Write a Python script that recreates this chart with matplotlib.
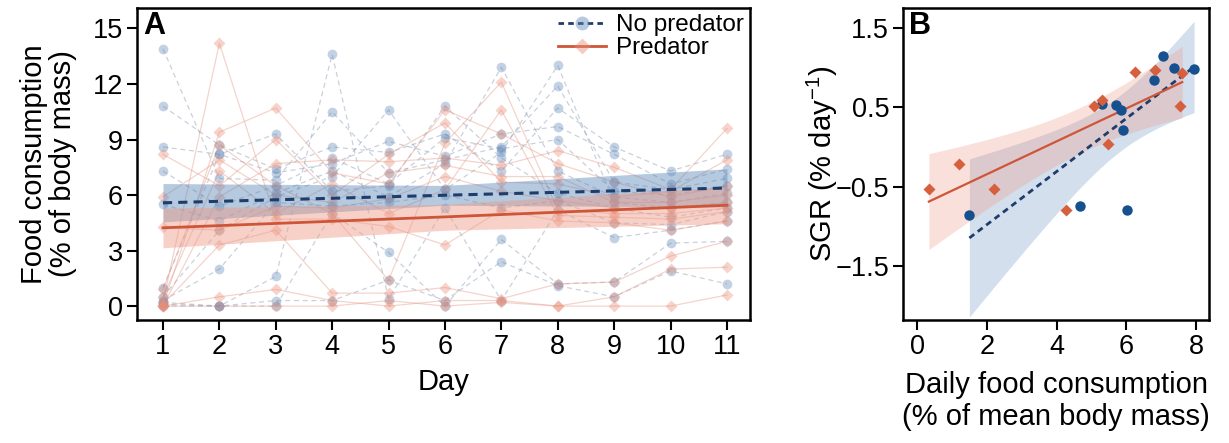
import numpy as np
import matplotlib
matplotlib.use("Agg")
import matplotlib.pyplot as plt
from matplotlib.lines import Line2D
from matplotlib.colors import to_rgba

plt.rcParams['font.family'] = ['Liberation Sans', 'DejaVu Sans']

# ---------------- Panel A data ----------------
days = [1, 2, 3, 4, 5, 6, 7, 8, 9, 10, 11]

no_pred_fish = [
    [0.0, 0.0, 0.3, 0.3, 1.4, 0.3, 2.4, 1.1, 0.5, 1.9, 1.2],
    [0.1, 0.0, 0.0, 5.0, 2.9, 0.0, 3.6, 1.2, 1.3, 3.4, 3.5],
    [0.2, 0.0, 1.6, 13.6, 0.4, 5.3, 0.3, 5.2, 3.7, 4.1, 4.6],
    [0.3, 2.0, 5.6, 5.4, 5.6, 6.0, 5.3, 5.7, 4.5, 4.4, 5.1],
    [1.0, 8.2, 9.3, 6.2, 6.5, 10.8, 8.0, 6.1, 5.3, 4.8, 5.3],
    [0.5, 4.1, 5.9, 7.0, 10.6, 6.3, 8.3, 13.0, 5.6, 5.3, 5.6],
    [5.5, 4.6, 6.1, 7.3, 5.9, 7.7, 12.9, 7.3, 5.9, 5.6, 6.1],
    [7.3, 5.4, 6.5, 8.0, 6.6, 9.1, 8.5, 9.0, 6.2, 6.0, 6.5],
    [13.9, 6.9, 6.8, 10.5, 7.2, 7.9, 8.6, 11.9, 6.7, 6.3, 6.9],
    [8.6, 8.2, 7.2, 7.7, 8.9, 8.1, 9.3, 9.7, 8.2, 6.6, 7.4],
    [10.8, 8.7, 7.4, 8.6, 8.3, 9.3, 7.3, 10.7, 8.6, 7.3, 8.2],
]

pred_fish = [
    [0.0, 0.0, 0.0, 0.0, 0.3, 0.0, 0.2, 0.0, 0.0, 0.0, 0.6],
    [0.0, 0.5, 0.9, 0.3, 0.0, 0.3, 0.3, 0.0, 0.5, 2.0, 2.1],
    [0.1, 3.3, 4.1, 0.7, 0.7, 1.0, 0.4, 1.2, 1.3, 2.7, 3.5],
    [0.2, 14.2, 4.7, 4.7, 4.3, 3.3, 5.2, 4.6, 4.5, 4.1, 4.6],
    [0.5, 7.3, 5.0, 6.6, 5.0, 6.3, 10.6, 4.9, 4.8, 4.7, 5.1],
    [0.9, 8.7, 6.5, 5.0, 1.4, 8.8, 12.1, 5.2, 5.0, 5.0, 5.3],
    [4.25, 4.1, 5.4, 5.3, 5.8, 7.0, 6.2, 5.7, 5.3, 5.3, 5.6],
    [5.9, 7.9, 6.0, 5.6, 7.2, 7.6, 7.0, 7.0, 5.6, 5.6, 6.0],
    [8.2, 6.5, 9.0, 6.0, 8.2, 9.9, 6.7, 6.6, 5.9, 6.2, 7.9],
    [0.0, 9.4, 10.7, 7.2, 6.6, 10.6, 9.3, 7.7, 6.7, 5.9, 6.5],
    [0.0, 5.9, 7.7, 7.9, 7.8, 8.0, 7.6, 8.4, 7.5, 6.3, 9.6],
]

# model fit at days 1, 6, 11
fit_days = [1, 6, 11]
no_pred_fit = [5.58, 5.99, 6.38]
no_pred_lo = [4.55, 5.45, 5.35]
no_pred_hi = [6.62, 6.52, 7.42]
pred_fit = [4.23, 4.82, 5.45]
pred_lo = [3.15, 4.10, 4.45]
pred_hi = [5.30, 5.50, 6.45]

# ---------------- Panel B data ----------------
np_food = [1.50, 4.67, 6.03, 5.30, 5.70, 5.85, 5.89, 6.79, 7.05, 7.36, 7.94]
np_sgr = [-0.86, -0.75, -0.79, 0.54, 0.53, 0.46, 0.22, 0.84, 1.15, 1.00, 0.98]
p_food = [0.34, 1.19, 2.22, 4.28, 5.07, 5.29, 5.47, 6.24, 6.82, 7.53, 7.60]
p_sgr = [-0.53, -0.21, -0.53, -0.79, 0.52, 0.59, 0.04, 0.94, 0.97, 0.52, 0.93]

T975_DF9 = 2.262  # t quantile for 95% CI with n-2 = 9 df

# ---------------- colours ----------------
c_np_pt = '#5f89b8'
c_p_pt = '#ea8e78'
c_np_line = '#1f3d6b'
c_p_line = '#cf5539'
c_np_band = '#5b88ba'
c_p_band = '#ee9a86'
c_np_dot = '#17508f'
c_p_dot = '#d65f3d'

FS_TICK = 19.5
FS_LAB = 21
FS_LEG = 17.5

fig = plt.figure(figsize=(12.29, 4.43), dpi=100)
axA = fig.add_axes([0.1115, 0.2777, 0.4988, 0.704])
axB = fig.add_axes([0.7348, 0.2777, 0.249, 0.704])

# ---- Panel A ----
for row in no_pred_fish:
    axA.plot(days, row, color='#8a9ab0', lw=0.9, ls=(0, (4, 3)), alpha=0.45, zorder=1)
for row in pred_fish:
    axA.plot(days, row, color='#e6a090', lw=0.9, ls='-', alpha=0.45, zorder=1)
for row in no_pred_fish:
    axA.plot(days, row, ls='none', marker='o', ms=7, mfc=c_np_pt, mec='none', alpha=0.38, zorder=2)
for row in pred_fish:
    axA.plot(days, row, ls='none', marker='D', ms=6, mfc=c_p_pt, mec='none', alpha=0.38, zorder=2)

axA.fill_between(fit_days, no_pred_lo, no_pred_hi, color=c_np_band, alpha=0.45, lw=0, zorder=3)
axA.fill_between(fit_days, pred_lo, pred_hi, color=c_p_band, alpha=0.45, lw=0, zorder=3)
axA.plot(fit_days, no_pred_fit, color=c_np_line, lw=2.2, ls=(0, (3, 2)), zorder=4)
axA.plot(fit_days, pred_fit, color=c_p_line, lw=2.0, zorder=4)

axA.set_xlim(0.54, 11.41)
axA.set_ylim(-0.75, 16.1)
axA.set_xticks(days)
axA.set_yticks([0, 3, 6, 9, 12, 15])
axA.set_xlabel('Day', fontsize=FS_LAB, labelpad=6)
axA.set_ylabel('Food consumption\n(% of body mass)', fontsize=FS_LAB, labelpad=11, linespacing=1.05)
axA.text(0.01, 0.99, 'A', transform=axA.transAxes, fontsize=22, fontweight='bold', va='top', ha='left')

h1 = Line2D([], [], color=c_np_line, ls=(0, (2, 1.5)), lw=2, marker='o', ms=10,
            mfc=to_rgba(c_np_pt, 0.45), mec='none')
h2 = Line2D([], [], color=c_p_line, ls='-', lw=2, marker='D', ms=8.5,
            mfc=to_rgba(c_p_pt, 0.45), mec='none')
axA.legend([h1, h2], ['No predator', 'Predator'], loc='upper right', frameon=False,
           fontsize=FS_LEG, handlelength=2.0, handletextpad=0.4, borderaxespad=0.1,
           labelspacing=0.05, borderpad=0.15)

# ---- Panel B ----
def ols_band(x, y, ax, col_line, col_band, ls, lw):
    x = np.asarray(x); y = np.asarray(y)
    n = len(x)
    slope, icpt = np.polyfit(x, y, 1)
    xs = np.linspace(x.min(), x.max(), 100)
    yhat = icpt + slope * xs
    res = y - (icpt + slope * x)
    s = np.sqrt(np.sum(res ** 2) / (n - 2))
    sxx = np.sum((x - x.mean()) ** 2)
    hw = T975_DF9 * s * np.sqrt(1.0 / n + (xs - x.mean()) ** 2 / sxx)
    ax.fill_between(xs, yhat - hw, yhat + hw, color=col_band, alpha=0.3, lw=0, zorder=1)
    ax.plot(xs, yhat, color=col_line, ls=ls, lw=lw, zorder=2)

ols_band(np_food, np_sgr, axB, c_np_line, '#6f98c6', (0, (2.2, 1.6)), 2.0)
ols_band(p_food, p_sgr, axB, c_p_line, '#ee9985', '-', 1.6)
axB.plot(np_food, np_sgr, ls='none', marker='o', ms=7.5, mfc=c_np_dot, mec='none', zorder=3)
axB.plot(p_food, p_sgr, ls='none', marker='D', ms=6.5, mfc=c_p_dot, mec='none', zorder=3)

axB.set_xlim(-0.4, 8.37)
axB.set_ylim(-2.18, 1.75)
axB.set_xticks([0, 2, 4, 6, 8])
axB.set_yticks([1.5, 0.5, -0.5, -1.5])
axB.set_yticklabels(['1.5', '0.5', '\u22120.5', '\u22121.5'])
axB.set_xlabel('Daily food consumption\n(% of mean body mass)', fontsize=FS_LAB, labelpad=8, linespacing=1.2)
axB.set_ylabel('SGR (% day$^{\\mathregular{-1}}$)', fontsize=FS_LAB, labelpad=-3)
axB.text(0.02, 0.99, 'B', transform=axB.transAxes, fontsize=22, fontweight='bold', va='top', ha='left')

for ax in (axA, axB):
    for sp in ax.spines.values():
        sp.set_linewidth(1.8)
    ax.tick_params(direction='out', length=7, width=1.5, labelsize=FS_TICK, pad=3)

fig.savefig('out.png', dpi=100)
